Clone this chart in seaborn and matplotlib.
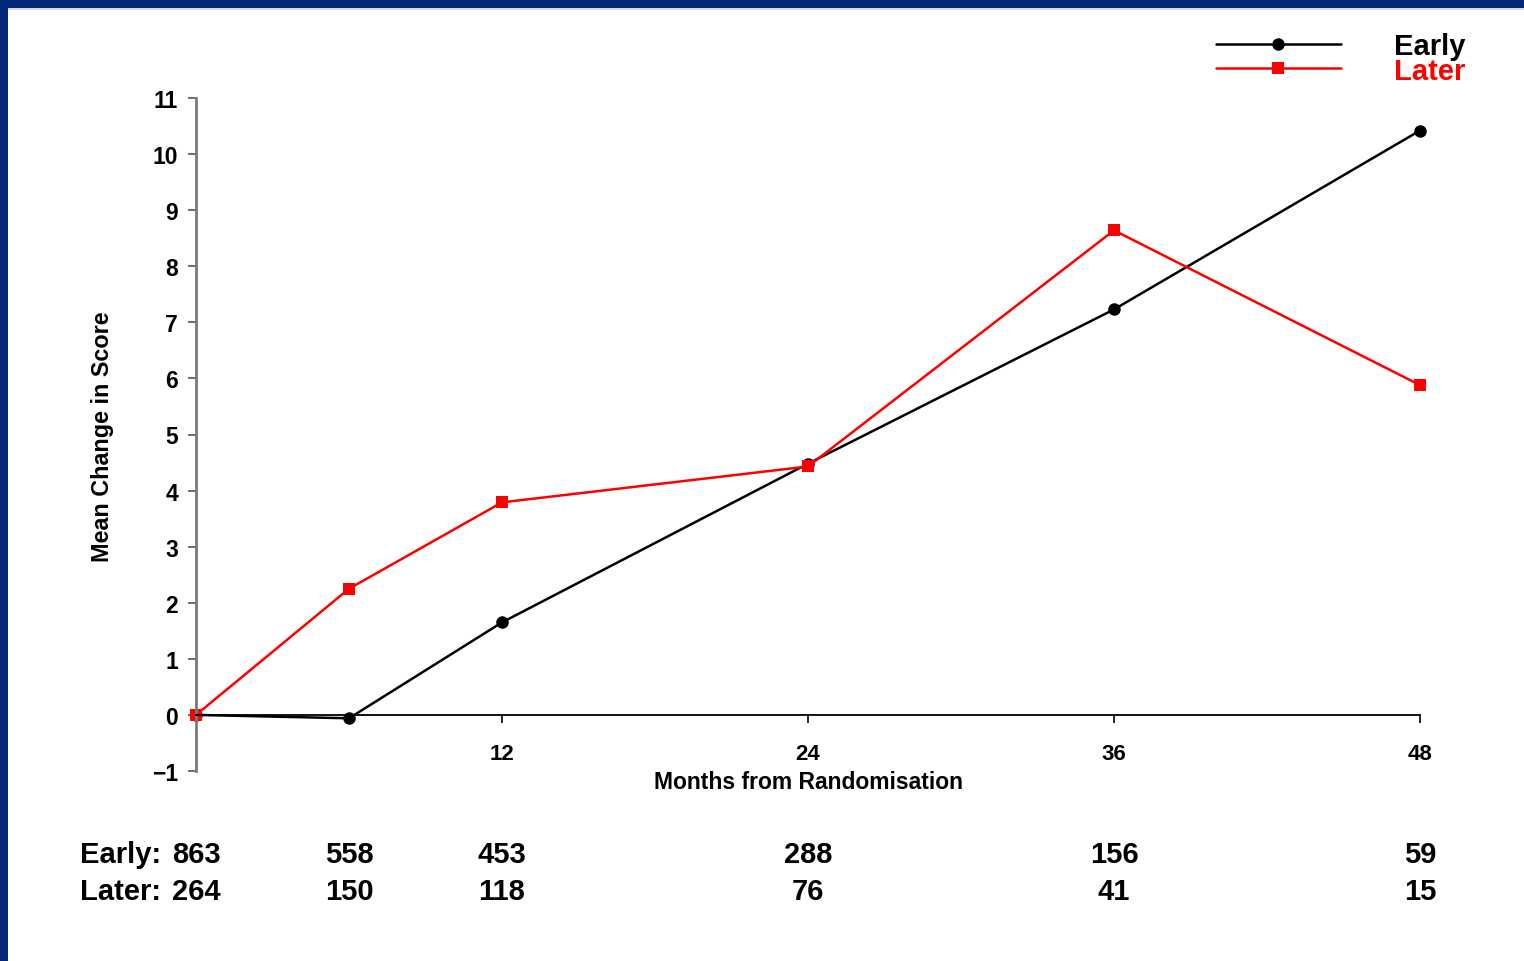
import numpy as np
import pandas as pd
import matplotlib
matplotlib.use("Agg")
import matplotlib.pyplot as plt
from matplotlib.patches import Rectangle
import matplotlib.transforms as mtransforms
import seaborn as sns

# ---- data ----
months = [0, 6, 12, 24, 36, 48]
early_scores = [0.0, -0.06, 1.65, 4.48, 7.23, 10.42]
later_scores = [0.0, 2.25, 3.79, 4.43, 8.64, 5.88]
groups = ["Early", "Later"]
early_counts = [863, 558, 453, 288, 156, 59]
later_counts = [264, 150, 118, 76, 41, 15]
xticks = [12, 24, 36, 48]
yticks = list(range(-1, 12))

sns.set_style("white")
plt.rcParams["font.family"] = ["Liberation Sans", "DejaVu Sans"]
plt.rcParams["font.weight"] = "bold"
plt.rcParams["text.color"] = "black"
plt.rcParams["axes.labelcolor"] = "black"
plt.rcParams["xtick.color"] = "black"
plt.rcParams["ytick.color"] = "black"

df = pd.DataFrame({
    "month": months * 2,
    "score": early_scores + later_scores,
    "group": ["Early"] * len(months) + ["Later"] * len(months),
})

W, H = 1524, 962
fig = plt.figure(figsize=(W / 100, H / 100), dpi=100)
fig.patch.set_facecolor("white")

def fx(px):
    return px / W

def fy(py):
    return 1 - py / H

ax = fig.add_axes([fx(196), fy(772), fx(1420) - fx(196), fy(99) - fy(772)])

palette = {"Early": "black", "Later": "#ff0000"}
sns.lineplot(data=df, x="month", y="score", hue="group", style="group",
             hue_order=groups, style_order=groups,
             markers={"Early": "o", "Later": "s"}, dashes=False,
             palette=palette, markersize=9, linewidth=1.8,
             markeredgewidth=0, ax=ax, legend="full")

for ln in ax.lines:
    ln.set_clip_on(False)

ax.set_xlim(0, 48)
ax.set_ylim(-1, 11)
ax.set_xlabel("")
ax.set_ylabel("")

ax.spines["top"].set_visible(False)
ax.spines["right"].set_visible(False)
ax.spines["bottom"].set_position(("data", 0))
ax.spines["bottom"].set_color("black")
ax.spines["bottom"].set_linewidth(1.3)
ax.spines["left"].set_color("#7a7a7a")
ax.spines["left"].set_linewidth(2.0)

ax.set_xticks(xticks)
ax.set_xticklabels([str(t) for t in xticks])
ax.set_yticks(yticks)
ax.tick_params(axis="x", direction="out", length=6, width=1.2, color="black",
               labelcolor="black", pad=14, labelsize=16)
ax.tick_params(axis="y", direction="out", length=6, width=1.2, color="#555555",
               labelcolor="black", pad=7, labelsize=16.5)
ax.tick_params(left=True, bottom=True)
for lab in ax.get_xticklabels() + ax.get_yticklabels():
    lab.set_fontweight("bold")

# axis labels
fig.text(fx(808), fy(783), "Months from Randomisation", ha="center", va="center",
         fontsize=16.5, fontweight="bold", color="black")
fig.text(fx(103), fy(437), "Mean Change in Score", ha="center", va="center",
         rotation=90, fontsize=16.8, fontweight="bold", color="black")

# counts table
trans = mtransforms.blended_transform_factory(ax.transData, fig.transFigure)
for row_y, name, counts in [(fy(855), "Early:", early_counts), (fy(892), "Later:", later_counts)]:
    for m, c in zip(months, counts):
        ax.text(m, row_y, str(c), transform=trans, ha="center", va="center",
                fontsize=21, fontweight="bold", color="black", clip_on=False)
    ax.annotate(name, xy=(0, row_y), xycoords=trans, xytext=(-25, 0),
                textcoords="offset points", ha="right", va="center",
                fontsize=21, fontweight="bold", color="black", annotation_clip=False)

# legend
handles, labels = ax.get_legend_handles_labels()
if ax.get_legend() is not None:
    ax.get_legend().remove()
leg = fig.legend(handles, labels, loc="upper right",
                 bbox_to_anchor=(fx(1465), fy(33)), bbox_transform=fig.transFigure,
                 frameon=False, fontsize=21, labelcolor="linecolor",
                 handlelength=4.3, handletextpad=1.8, labelspacing=-0.12,
                 borderpad=0, borderaxespad=0)
for t in leg.get_texts():
    t.set_fontweight("bold")

# blue border
fig.patches.append(Rectangle((0, fy(9)), 1, 9 / H, transform=fig.transFigure,
                             facecolor="#02297a", edgecolor="none", zorder=10))
fig.patches.append(Rectangle((0, fy(11)), 1, 2 / H, transform=fig.transFigure,
                             facecolor="#d8d8d8", edgecolor="none", zorder=9))
fig.patches.append(Rectangle((0, 0), 8 / W, 1, transform=fig.transFigure,
                             facecolor="#02297a", edgecolor="none", zorder=10))

fig.savefig("out.png", dpi=100, facecolor="white")
